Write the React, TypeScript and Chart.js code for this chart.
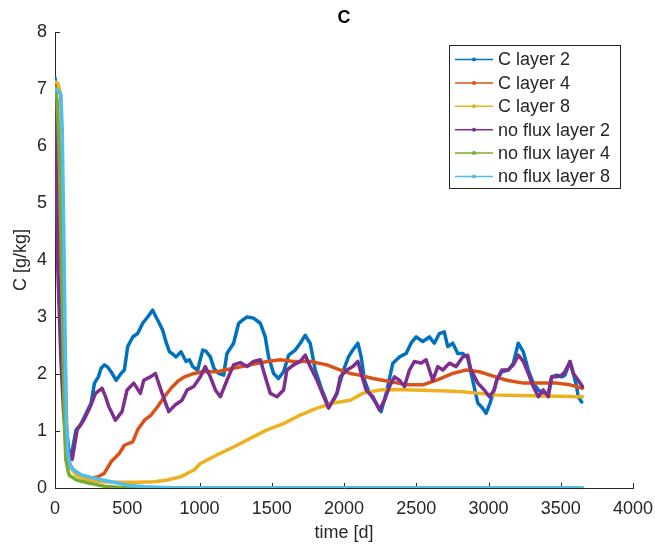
import React, { useEffect, useRef } from "react";
import { Chart, registerables } from "chart.js";

Chart.register(...registerables);

// ---------- data ----------
const xTicks = [0, 500, 1000, 1500, 2000, 2500, 3000, 3500, 4000];
const yTicks = [0, 1, 2, 3, 4, 5, 6, 7, 8];

const seriesLabels = ["C layer 2", "C layer 4", "C layer 8", "no flux layer 2", "no flux layer 4", "no flux layer 8"];

const cLayer2Time = [0, 15, 35, 55, 75, 95, 115, 146, 175, 204, 250, 273, 300, 319, 342, 365, 388, 423, 457, 480, 503, 538, 572, 607, 641, 676, 699, 720, 745, 770, 792, 815, 838, 872, 907, 930, 953, 987, 1022, 1045, 1075, 1100, 1132, 1167, 1190, 1236, 1271, 1300, 1329, 1374, 1400, 1421, 1455, 1478, 1513, 1547, 1582, 1617, 1663, 1697, 1732, 1750, 1766, 1801, 1847, 1893, 1920, 1951, 1997, 2031, 2061, 2096, 2119, 2142, 2176, 2222, 2257, 2292, 2338, 2384, 2430, 2464, 2499, 2545, 2591, 2625, 2660, 2694, 2718, 2753, 2787, 2822, 2856, 2891, 2926, 2960, 2983, 3011, 3057, 3092, 3137, 3172, 3206, 3241, 3275, 3310, 3345, 3379, 3414, 3437, 3471, 3506, 3529, 3564, 3587, 3610, 3621, 3645];
const cLayer2Values = [7.2, 6.5, 4.8, 2.8, 1.2, 0.65, 0.6, 1.02, 1.1, 1.25, 1.49, 1.84, 1.95, 2.1, 2.16, 2.12, 2.04, 1.89, 2.01, 2.07, 2.48, 2.65, 2.71, 2.89, 3.0, 3.12, 3.0, 2.9, 2.77, 2.55, 2.39, 2.35, 2.3, 2.39, 2.22, 2.25, 2.13, 2.07, 2.42, 2.4, 2.3, 2.1, 2.01, 1.98, 2.36, 2.54, 2.89, 2.95, 3.0, 2.98, 2.93, 2.89, 2.65, 2.3, 2.01, 1.92, 2.04, 2.33, 2.42, 2.54, 2.68, 2.6, 2.54, 2.07, 1.72, 1.43, 1.5, 1.66, 2.07, 2.3, 2.42, 2.54, 2.3, 1.89, 1.66, 1.49, 1.34, 1.66, 2.19, 2.3, 2.36, 2.54, 2.65, 2.57, 2.65, 2.54, 2.71, 2.74, 2.48, 2.54, 2.36, 2.36, 2.28, 1.89, 1.49, 1.4, 1.31, 1.49, 1.89, 2.04, 2.07, 2.19, 2.54, 2.39, 2.07, 1.84, 1.72, 1.66, 1.66, 1.95, 1.98, 1.95, 1.98, 2.22, 2.01, 1.78, 1.6, 1.51];

const cLayer4Time = [0, 15, 35, 55, 75, 95, 130, 180, 250, 300, 342, 388, 446, 480, 538, 572, 619, 665, 711, 757, 803, 849, 895, 964, 1022, 1121, 1236, 1351, 1467, 1559, 1651, 1766, 1882, 1974, 2043, 2107, 2200, 2315, 2430, 2545, 2637, 2753, 2845, 2936, 3011, 3126, 3241, 3356, 3471, 3564, 3650];
const cLayer4Values = [7.1, 6.3, 4.5, 2.5, 0.9, 0.45, 0.3, 0.22, 0.17, 0.2, 0.26, 0.46, 0.61, 0.75, 0.81, 1.02, 1.19, 1.28, 1.43, 1.6, 1.75, 1.87, 1.95, 2.01, 2.04, 2.04, 2.1, 2.16, 2.22, 2.25, 2.22, 2.22, 2.16, 2.07, 2.01, 1.98, 1.92, 1.87, 1.81, 1.81, 1.89, 2.01, 2.07, 2.04, 1.98, 1.89, 1.84, 1.84, 1.84, 1.81, 1.75];

const cLayer8Time = [0, 20, 40, 55, 70, 85, 100, 150, 227, 342, 457, 572, 688, 780, 872, 964, 1006, 1121, 1236, 1351, 1467, 1582, 1697, 1813, 1927, 2043, 2130, 2245, 2361, 2476, 2591, 2706, 2822, 2936, 3052, 3300, 3650];
const cLayer8Values = [7.12, 7.1, 6.9, 4.8, 2.2, 0.7, 0.38, 0.22, 0.14, 0.11, 0.1, 0.1, 0.11, 0.14, 0.2, 0.32, 0.43, 0.58, 0.72, 0.87, 1.02, 1.13, 1.28, 1.4, 1.49, 1.54, 1.66, 1.72, 1.73, 1.72, 1.71, 1.7, 1.69, 1.66, 1.63, 1.62, 1.6];

const noFlux2Time = [0, 8, 20, 40, 60, 80, 100, 119, 153, 199, 245, 280, 326, 350, 372, 418, 464, 499, 545, 591, 614, 660, 695, 741, 787, 833, 879, 914, 960, 1006, 1040, 1075, 1110, 1144, 1190, 1236, 1282, 1329, 1374, 1421, 1455, 1490, 1536, 1582, 1605, 1651, 1697, 1732, 1766, 1813, 1893, 1951, 1974, 2020, 2061, 2096, 2119, 2153, 2200, 2245, 2280, 2315, 2349, 2384, 2418, 2453, 2487, 2534, 2568, 2614, 2649, 2684, 2729, 2776, 2822, 2856, 2879, 2926, 2971, 3006, 3040, 3057, 3092, 3137, 3172, 3206, 3241, 3275, 3310, 3345, 3379, 3414, 3437, 3471, 3506, 3529, 3564, 3587, 3621, 3650];
const noFlux2Values = [7.0, 5.6, 3.8, 2.3, 1.3, 0.8, 0.6, 0.5, 1.02, 1.19, 1.43, 1.66, 1.75, 1.6, 1.43, 1.19, 1.34, 1.72, 1.84, 1.66, 1.89, 1.95, 2.01, 1.66, 1.34, 1.46, 1.54, 1.72, 1.78, 1.95, 2.13, 1.95, 1.72, 1.6, 1.89, 2.16, 2.2, 2.13, 2.22, 2.25, 1.95, 1.66, 1.6, 1.72, 2.07, 2.16, 2.22, 2.33, 2.13, 1.89, 1.4, 1.66, 1.95, 2.07, 2.13, 2.22, 2.01, 1.72, 1.6, 1.37, 1.54, 1.78, 1.95, 1.89, 1.78, 2.07, 2.22, 2.19, 2.25, 1.89, 2.13, 2.07, 2.19, 2.13, 2.3, 2.33, 2.07, 1.84, 1.72, 1.6, 1.72, 1.89, 2.07, 2.07, 2.16, 2.33, 2.22, 2.01, 1.78, 1.6, 1.72, 1.6, 1.95, 1.95, 1.98, 2.04, 2.22, 2.01, 1.89, 1.78];

const noFlux4Time = [0, 15, 30, 45, 55, 65, 75, 90, 100, 150, 227, 342, 450, 600, 1000, 2000, 3000, 3650];
const noFlux4Values = [7.0, 6.8, 5.8, 4.0, 2.6, 1.1, 0.5, 0.3, 0.22, 0.14, 0.09, 0.03, 0.01, 0.0, 0.0, 0.0, 0.0, 0.0];

const noFlux8Time = [0, 20, 40, 50, 60, 70, 80, 90, 100, 112, 181, 273, 388, 503, 619, 750, 900, 2000, 3000, 3650];
const noFlux8Values = [7.0, 6.98, 6.9, 6.3, 4.6, 2.6, 1.1, 0.6, 0.45, 0.35, 0.23, 0.17, 0.11, 0.05, 0.02, 0.01, 0.0, 0.0, 0.0, 0.0];

const seriesColors = ["#0072BD", "#D95319", "#EDB120", "#7E2F8E", "#77AC30", "#4DBEEE"];

// ---------- styling ----------
const FONT = "'Liberation Sans', Arial, Helvetica, sans-serif";
const AXIS_COLOR = "#262626";

function toPoints(t: number[], v: number[]) {
  return t.map((x, i) => ({ x, y: v[i] }));
}

const inwardTicks = {
  id: "inwardTicks",
  beforeDatasetsDraw(chart: any) {
    const { ctx, chartArea, scales } = chart;
    const xs = scales.x;
    const ys = scales.y;
    ctx.save();
    ctx.strokeStyle = AXIS_COLOR;
    ctx.lineWidth = 1;
    ctx.beginPath();
    for (const v of xTicks) {
      const px = Math.round(xs.getPixelForValue(v)) + 0.5;
      ctx.moveTo(px, chartArea.bottom);
      ctx.lineTo(px, chartArea.bottom - 5);
    }
    for (const v of yTicks) {
      const py = Math.round(ys.getPixelForValue(v)) + 0.5;
      ctx.moveTo(chartArea.left, py);
      ctx.lineTo(chartArea.left + 5, py);
    }
    ctx.stroke();
    ctx.restore();
  },
};

const boxLegend = {
  id: "boxLegend",
  afterDraw(chart: any) {
    const { ctx, chartArea } = chart;
    const width = 171;
    const height = 143;
    const right = chartArea.right - 13;
    const left = right - width;
    const top = chartArea.top + 13;
    ctx.save();
    ctx.fillStyle = "#ffffff";
    ctx.fillRect(left, top, width, height);
    ctx.strokeStyle = AXIS_COLOR;
    ctx.lineWidth = 1;
    ctx.strokeRect(Math.round(left) + 0.5, Math.round(top) + 0.5, width, height);
    ctx.font = `18px ${FONT}`;
    ctx.textBaseline = "middle";
    ctx.textAlign = "left";
    seriesLabels.forEach((label, i) => {
      const y = top + 14.5 + i * 23.4;
      ctx.strokeStyle = seriesColors[i];
      ctx.lineWidth = 1.5;
      ctx.beginPath();
      ctx.moveTo(left + 6, y);
      ctx.lineTo(left + 44, y);
      ctx.stroke();
      ctx.fillStyle = seriesColors[i];
      ctx.beginPath();
      ctx.arc(left + 25, y, 2, 0, Math.PI * 2);
      ctx.fill();
      ctx.fillStyle = AXIS_COLOR;
      ctx.fillText(label, left + 49, y + 1);
    });
    ctx.restore();
  },
};

export default function App() {
  const canvasRef = useRef<HTMLCanvasElement | null>(null);

  useEffect(() => {
    if (!canvasRef.current) return;
    const times = [cLayer2Time, cLayer4Time, cLayer8Time, noFlux2Time, noFlux4Time, noFlux8Time];
    const values = [cLayer2Values, cLayer4Values, cLayer8Values, noFlux2Values, noFlux4Values, noFlux8Values];
    const datasets = seriesLabels.map((label, i) => ({
      label,
      data: toPoints(times[i], values[i]),
      borderColor: seriesColors[i],
      backgroundColor: seriesColors[i],
      borderWidth: 3.5,
      pointRadius: 0,
      tension: 0,
      fill: false,
      borderJoinStyle: "round" as const,
      borderCapStyle: "round" as const,
      order: seriesLabels.length - 1 - i,
    }));

    const chart = new Chart(canvasRef.current, {
      type: "line",
      data: { datasets },
      plugins: [inwardTicks, boxLegend],
      options: {
        animation: false,
        responsive: false,
        devicePixelRatio: 1,
        layout: { padding: { left: 0, right: 0, top: 0, bottom: 0 } },
        plugins: {
          legend: { display: false },
          tooltip: { enabled: false },
          title: {
            display: true,
            text: "C",
            fullSize: false,
            color: "#000000",
            font: { family: FONT, size: 18, weight: "bold" },
            padding: { top: 7, bottom: 3.4 },
          },
        },
        scales: {
          x: {
            type: "linear",
            min: 0,
            max: 4000,
            afterFit: (s: any) => {
              s.height = 58;
              s.paddingRight = 22;
              s.paddingLeft = 10;
            },
            afterBuildTicks: (s: any) => {
              s.ticks = xTicks.map((v) => ({ value: v }));
            },
            grid: { display: false, drawTicks: false, tickLength: 0 },
            border: { display: true, color: AXIS_COLOR, width: 1 },
            ticks: {
              color: AXIS_COLOR,
              font: { family: FONT, size: 18 },
              padding: 10,
              maxRotation: 0,
              autoSkip: false,
              callback: (v: any) => String(v),
            },
            title: {
              display: true,
              text: "time [d]",
              color: AXIS_COLOR,
              font: { family: FONT, size: 18 },
              padding: { top: 0, bottom: 1.7 },
            },
          },
          y: {
            type: "linear",
            min: 0,
            max: 8,
            afterFit: (s: any) => {
              s.width = 55;
            },
            afterBuildTicks: (s: any) => {
              s.ticks = yTicks.map((v) => ({ value: v }));
            },
            grid: { display: false, drawTicks: false, tickLength: 0 },
            border: { display: true, color: AXIS_COLOR, width: 1 },
            ticks: {
              color: AXIS_COLOR,
              font: { family: FONT, size: 18 },
              padding: 8,
              autoSkip: false,
              callback: (v: any) => String(v),
            },
            title: {
              display: true,
              text: "C [g/kg]",
              color: AXIS_COLOR,
              font: { family: FONT, size: 18 },
              padding: { top: 10, bottom: 0 },
            },
          },
        },
      },
    } as any);

    return () => chart.destroy();
  }, []);

  return (
    <div style={{ position: "fixed", left: 0, top: 0, width: 655, height: 546, background: "#ffffff" }}>
      <canvas ref={canvasRef} width={655} height={546} style={{ display: "block" }} />
    </div>
  );
}
